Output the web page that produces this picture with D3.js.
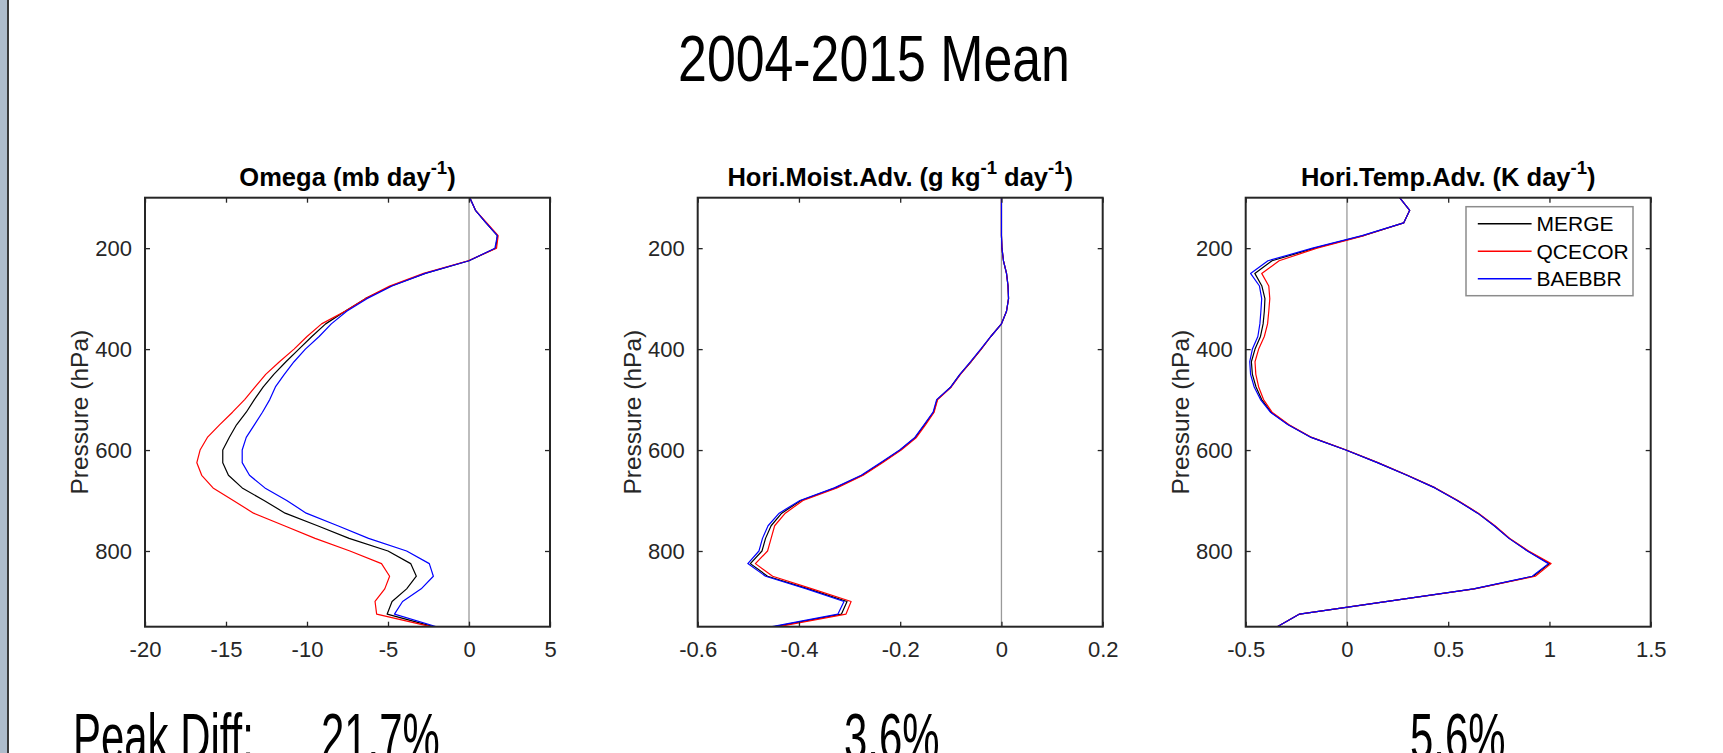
<!DOCTYPE html>
<html lang="en">
<head>
    <meta charset="UTF-8">
    <title>2004-2015 Mean</title>
    <script src="https://cdn.jsdelivr.net/npm/d3@7"></script>
    <style>
        body { margin: 0; background: #fff; }
        text { font-family: "Liberation Sans", Arial, Helvetica, sans-serif; }
    </style>
</head>
<body>
<script>
    var width = 1723;
    var height = 753;

    // pressure levels (hPa), shared by all panels
    var levels = [100,125,150,175,200,225,250,275,300,325,350,375,400,425,450,475,500,
                  525,550,575,600,625,650,675,700,725,750,775,800,825,850,875,900,925,950];

    var seriesNames = ["MERGE", "QCECOR", "BAEBBR"];
    var seriesColors = ["#000000", "#ff0000", "#0000ff"];

    // Omega (mb/day)
    var omegaMerge  = [0.05,0.4,1.05,1.75,1.65,0.0,-2.7,-4.8,-6.4,-7.65,-8.85,-9.7,-10.5,-11.3,-12.05,-12.7,-13.25,
                       -13.75,-14.35,-14.8,-15.2,-15.2,-14.85,-14.0,-12.65,-11.35,-9.35,-7.4,-5.0,-3.6,-3.25,-3.85,-4.75,-5.05,-2.2];
    var omegaQcecor = [0.05,0.4,1.1,1.8,1.7,-0.05,-2.8,-4.9,-6.4,-7.65,-9.1,-10.0,-10.8,-11.7,-12.55,-13.2,-13.85,
                       -14.6,-15.4,-16.15,-16.6,-16.8,-16.5,-15.8,-14.55,-13.3,-11.4,-9.5,-7.35,-5.4,-4.9,-5.2,-5.8,-5.7,-2.35];
    var omegaBaebbr = [0.05,0.4,1.05,1.75,1.6,0.0,-2.7,-4.75,-6.3,-7.55,-8.5,-9.25,-10.1,-10.8,-11.4,-11.95,-12.3,
                       -12.75,-13.25,-13.75,-14.0,-14.0,-13.55,-12.6,-11.25,-10.05,-8.1,-6.2,-3.85,-2.45,-2.2,-2.95,-4.1,-4.6,-2.0];

    // Horizontal moisture advection (g/kg/day)
    var moistMerge  = [0,0,0,0,0.001,0.004,0.01,0.013,0.014,0.01,0.0,-0.021,-0.04,-0.06,-0.082,-0.1,-0.127,
                       -0.134,-0.152,-0.17,-0.2,-0.237,-0.275,-0.328,-0.396,-0.434,-0.455,-0.466,-0.473,-0.496,-0.462,-0.381,-0.305,-0.316,-0.448];
    var moistQcecor = [0,0,0,0,0.001,0.004,0.01,0.013,0.014,0.01,0.0,-0.021,-0.04,-0.06,-0.081,-0.099,-0.126,
                       -0.133,-0.15,-0.168,-0.198,-0.235,-0.273,-0.325,-0.392,-0.427,-0.448,-0.455,-0.462,-0.486,-0.452,-0.374,-0.297,-0.307,-0.441];
    var moistBaebbr = [0,0,0,0,0.001,0.004,0.01,0.013,0.014,0.01,0.0,-0.021,-0.041,-0.061,-0.082,-0.1,-0.128,
                       -0.135,-0.153,-0.171,-0.201,-0.239,-0.277,-0.33,-0.398,-0.439,-0.461,-0.472,-0.479,-0.501,-0.466,-0.385,-0.311,-0.323,-0.453];

    // Horizontal temperature advection (K/day)
    var tempMerge  = [0.26,0.31,0.28,0.08,-0.16,-0.37,-0.455,-0.42,-0.405,-0.408,-0.414,-0.427,-0.454,-0.472,-0.467,-0.449,-0.421,
                      -0.375,-0.289,-0.176,-0.005,0.151,0.297,0.435,0.545,0.646,0.728,0.801,0.893,1.0,0.92,0.627,0.2,-0.234,-0.344];
    var tempQcecor = [0.26,0.31,0.28,0.085,-0.148,-0.335,-0.421,-0.386,-0.381,-0.386,-0.392,-0.408,-0.436,-0.454,-0.45,-0.436,-0.412,
                      -0.37,-0.286,-0.174,-0.003,0.153,0.299,0.437,0.548,0.649,0.731,0.804,0.897,1.008,0.93,0.63,0.2,-0.234,-0.344];
    var tempBaebbr = [0.26,0.31,0.28,0.075,-0.17,-0.39,-0.476,-0.432,-0.421,-0.425,-0.43,-0.44,-0.467,-0.48,-0.476,-0.458,-0.427,
                      -0.378,-0.291,-0.177,-0.006,0.15,0.296,0.434,0.544,0.645,0.727,0.8,0.891,0.995,0.915,0.625,0.2,-0.234,-0.344];

    var yTicks = [200, 400, 600, 800];
    var xTicks1 = [-20, -15, -10, -5, 0, 5];
    var xTicks2 = [-0.6, -0.4, -0.2, 0, 0.2];
    var xTicks3 = [-0.5, 0, 0.5, 1, 1.5];

    var peakDiff = ["21.7%", "3.6%", "5.6%"];

    var panels = [
        { title: [["Omega (mb day"], ["-1", true], [")"]], domain: [-20, 5], ticks: xTicks1,
          series: [omegaMerge, omegaQcecor, omegaBaebbr], left: 145 },
        { title: [["Hori.Moist.Adv. (g kg"], ["-1", true], [" day"], ["-1", true], [")"]], domain: [-0.6, 0.2], ticks: xTicks2,
          series: [moistMerge, moistQcecor, moistBaebbr], left: 697.7 },
        { title: [["Hori.Temp.Adv. (K day"], ["-1", true], [")"]], domain: [-0.5, 1.5], ticks: xTicks3,
          series: [tempMerge, tempQcecor, tempBaebbr], left: 1245.7, legend: true }
    ];

    var plotW = 405, plotH = 429, plotTop = 197.7;
    var axisColor = "#262626";

    var svg = d3.select("body")
                .append("svg")
                .attr("width", width)
                .attr("height", height);

    svg.append("rect").attr("width", width).attr("height", height).attr("fill", "#fff");

    // left window edge
    svg.append("rect").attr("x", 0).attr("y", 0).attr("width", 7).attr("height", height).attr("fill", "#aebccb");
    svg.append("rect").attr("x", 7).attr("y", 0).attr("width", 2).attr("height", height).attr("fill", "#3a3a3a");

    // main title (condensed look)
    svg.append("text")
        .attr("transform", "translate(874,80.5) scale(0.81,1)")
        .attr("text-anchor", "middle")
        .attr("font-size", 64)
        .attr("fill", "#000")
        .text("2004-2015 Mean");

    var y = d3.scaleLinear().domain([100, 950]).range([0, plotH]);

    panels.forEach(function (p, pi) {
        var x = d3.scaleLinear().domain(p.domain).range([0, plotW]);
        var g = svg.append("g").attr("transform", "translate(" + p.left + "," + plotTop + ")");

        g.append("clipPath").attr("id", "clip" + pi)
            .append("rect").attr("width", plotW).attr("height", plotH);

        // zero line
        g.append("line")
            .attr("x1", x(0)).attr("x2", x(0))
            .attr("y1", 0).attr("y2", plotH)
            .attr("stroke", "#9a9a9a").attr("stroke-width", 1.3);

        var line = d3.line()
            .x(function (d) { return x(d[0]); })
            .y(function (d) { return y(d[1]); });

        p.series.forEach(function (vals, si) {
            g.append("path")
                .datum(vals.map(function (v, i) { return [v, levels[i]]; }))
                .attr("clip-path", "url(#clip" + pi + ")")
                .attr("d", line)
                .attr("fill", "none")
                .attr("stroke", seriesColors[si])
                .attr("stroke-width", 1.2)
                .attr("stroke-linejoin", "round");
        });

        // axes: inward ticks on all sides
        var tickLen = 5;
        var axB = g.append("g").attr("transform", "translate(0," + plotH + ")")
            .call(d3.axisBottom(x).tickValues(p.ticks).tickSizeInner(-tickLen).tickSizeOuter(0)
                .tickFormat(function (d) { return String(d); }));
        var axT = g.append("g")
            .call(d3.axisTop(x).tickValues(p.ticks).tickSizeInner(-tickLen).tickSizeOuter(0).tickFormat(""));
        var axL = g.append("g")
            .call(d3.axisLeft(y).tickValues(yTicks).tickSizeInner(-tickLen).tickSizeOuter(0).tickPadding(13));
        var axR = g.append("g").attr("transform", "translate(" + plotW + ",0)")
            .call(d3.axisRight(y).tickValues(yTicks).tickSizeInner(-tickLen).tickSizeOuter(0).tickFormat(""));

        [axB, axT, axL, axR].forEach(function (a) {
            a.select(".domain").remove();
            a.selectAll("line").attr("stroke", axisColor).attr("stroke-width", 1.3);
            a.selectAll("text").attr("fill", axisColor).attr("font-size", 22)
                .style("font-family", "'Liberation Sans', Arial, sans-serif");
        });
        axB.selectAll("text").attr("y", 15).attr("dy", "0.71em");

        g.append("rect")
            .attr("width", plotW).attr("height", plotH)
            .attr("fill", "none").attr("stroke", axisColor).attr("stroke-width", 2);

        // y label
        g.append("text")
            .attr("transform", "translate(-57," + (plotH / 2) + ") rotate(-90)")
            .attr("text-anchor", "middle")
            .attr("font-size", 24.5)
            .attr("fill", axisColor)
            .text("Pressure (hPa)");

        // panel title with superscripts
        var t = g.append("text")
            .attr("x", plotW / 2).attr("y", -11.5)
            .attr("text-anchor", "middle")
            .attr("font-size", 25.5)
            .attr("font-weight", "bold")
            .attr("fill", "#000");
        var raised = false;
        p.title.forEach(function (part) {
            var ts = t.append("tspan").text(part[0]);
            if (part[1]) {
                ts.attr("font-size", 18.5).attr("dy", -12);
                raised = true;
            } else if (raised) {
                ts.attr("dy", 12);
                raised = false;
            }
        });

        if (p.legend) {
            var lg = g.append("g").attr("transform", "translate(" + (1466 - p.left) + "," + (206.7 - plotTop) + ")");
            lg.append("rect").attr("width", 167).attr("height", 89)
                .attr("fill", "#fff").attr("stroke", "#8c8c8c").attr("stroke-width", 1.5);
            seriesNames.forEach(function (name, si) {
                var cy = 17 + si * 27.5;
                lg.append("line").attr("x1", 11.8).attr("x2", 65.6).attr("y1", cy).attr("y2", cy)
                    .attr("stroke", seriesColors[si]).attr("stroke-width", 1.5);
                lg.append("text").attr("x", 70.5).attr("y", cy).attr("dy", "0.35em")
                    .attr("font-size", 21).attr("fill", "#000").text(name);
            });
        }
    });

    // peak difference annotations (condensed, cut by bottom edge)
    var annot = [
        { x: 73, s: "Peak Diff:" },
        { x: 321, s: peakDiff[0] },
        { x: 844, s: peakDiff[1] },
        { x: 1410, s: peakDiff[2] }
    ];
    svg.selectAll(".annot")
        .data(annot)
        .enter()
        .append("text")
        .attr("class", "annot")
        .attr("transform", function (d) { return "translate(" + d.x + ",759) scale(0.655,1)"; })
        .attr("font-size", 64)
        .attr("fill", "#000")
        .text(function (d) { return d.s; });
</script>
</body>
</html>
